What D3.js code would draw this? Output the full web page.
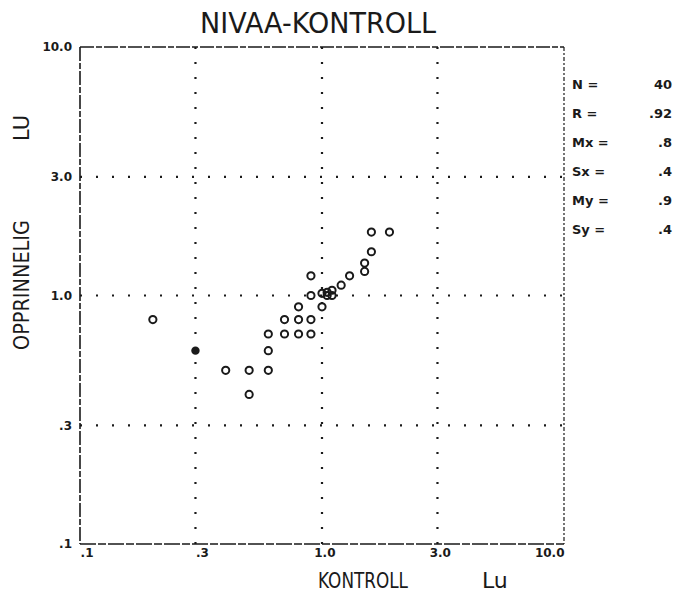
<!DOCTYPE html>
<html><head><meta charset="utf-8">
<script src="https://cdn.jsdelivr.net/npm/d3@7"></script>
<style>body{margin:0;background:#fff}svg{display:block}</style>
</head><body>
<script>
// ---- data ----
const xValues = [0.2, 0.4, 0.5, 0.6, 0.5, 0.6, 0.6, 0.7, 0.8, 0.9, 0.7, 0.8, 0.9, 0.8, 1.0, 0.9, 0.9, 1.05, 1.1, 1.0, 1.2, 1.3, 1.5, 1.5, 1.6, 1.6, 1.9, 1.1, 1.05];
const yValues = [0.8, 0.5, 0.5, 0.5, 0.4, 0.6, 0.7, 0.7, 0.7, 0.7, 0.8, 0.8, 0.8, 0.9, 0.9, 1.0, 1.2, 1.0, 1.05, 1.02, 1.1, 1.2, 1.25, 1.35, 1.5, 1.8, 1.8, 1.0, 1.03];
const filledX = [0.3];
const filledY = [0.6];
const tickValues = [0.1, 0.3, 1, 3, 10];
const tickLabels = [".1", ".3", "1.0", "3.0", "10.0"];
const gridValues = [0.3, 1, 3];
const statLabels = ["N =", "R =", "Mx =", "Sx =", "My =", "Sy ="];
const statValues = ["40", ".92", ".8", ".4", ".9", ".4"];

const W = 688, H = 604;
const svg = d3.select("body").append("svg").attr("width", W).attr("height", H);
const ink = "#1a1a1a";
const x = d3.scaleLog().domain([0.1, 10]).range([80, 564]);
const y = d3.scaleLog().domain([0.1, 10]).range([544, 47]);

// grid
svg.append("g").selectAll("line").data(gridValues).join("line")
  .attr("x1", d => x(d)).attr("x2", d => x(d)).attr("y1", y(10)).attr("y2", y(0.1))
  .attr("stroke", ink).attr("stroke-width", 2.2).attr("stroke-dasharray", "2,13");
svg.append("g").selectAll("line").data(gridValues).join("line")
  .attr("y1", d => y(d)).attr("y2", d => y(d)).attr("x1", x(0.1)).attr("x2", x(10))
  .attr("stroke", ink).attr("stroke-width", 2.2).attr("stroke-dasharray", "2,14");

// frame
const frame = svg.append("g").attr("fill", "none").attr("stroke", ink);
frame.append("line").attr("x1", x(0.1)).attr("x2", x(10)).attr("y1", y(10)).attr("y2", y(10)).attr("stroke-width", 1.4).attr("stroke-dasharray", "14,2,6,2");
frame.append("line").attr("x1", x(0.1)).attr("x2", x(10)).attr("y1", y(0.1)).attr("y2", y(0.1)).attr("stroke-width", 1.6).attr("stroke-dasharray", "16,2,8,2");
frame.append("line").attr("x1", x(0.1)).attr("x2", x(0.1)).attr("y1", y(10)).attr("y2", y(0.1)).attr("stroke-width", 1.6).attr("stroke-dasharray", "14,2,6,2");
frame.append("line").attr("x1", x(10)).attr("x2", x(10)).attr("y1", y(10)).attr("y2", y(0.1)).attr("stroke-width", 1.2).attr("stroke-dasharray", "4,2,2,2");

// axes (tick labels through d3 axis)
const fmt = d => tickLabels[tickValues.indexOf(d)];
const gx = svg.append("g").attr("transform", `translate(0,${y(0.1)})`)
  .call(d3.axisBottom(x).tickValues(tickValues).tickFormat(fmt).tickSize(0).tickPadding(4));
gx.select(".domain").remove();
gx.selectAll("text").attr("font-family", "DejaVu Sans").attr("font-size", 12).attr("font-weight", "bold")
  .attr("fill", ink).attr("text-anchor", "end").attr("dx", d => d === 10 ? 0 : 13);
const gy = svg.append("g").attr("transform", `translate(${x(0.1)},0)`)
  .call(d3.axisLeft(y).tickValues(tickValues).tickFormat(fmt).tickSize(0).tickPadding(8));
gy.select(".domain").remove();
gy.selectAll("text").attr("font-family", "DejaVu Sans").attr("font-size", 12).attr("font-weight", "bold")
  .attr("fill", ink);

// points
const pts = d3.zip(xValues, yValues);
svg.append("g").selectAll("circle").data(pts).join("circle")
  .attr("cx", d => x(d[0])).attr("cy", d => y(d[1])).attr("r", 3.6)
  .attr("fill", "none").attr("stroke", ink).attr("stroke-width", 2);
svg.append("g").selectAll("circle").data(d3.zip(filledX, filledY)).join("circle")
  .attr("cx", d => x(d[0])).attr("cy", d => y(d[1])).attr("r", 4.2).attr("fill", ink);

// title and axis titles
const tfont = "DejaVu Sans";
svg.append("text").attr("x", 318).attr("y", 33).attr("text-anchor", "middle")
  .attr("font-family", tfont).attr("font-size", 29).attr("fill", ink)
  .attr("textLength", 236).attr("lengthAdjust", "spacingAndGlyphs").text("NIVAA-KONTROLL");
svg.append("text").attr("x", 318).attr("y", 588).attr("text-anchor", "start")
  .attr("font-family", tfont).attr("font-size", 22).attr("fill", ink)
  .attr("textLength", 90).attr("lengthAdjust", "spacingAndGlyphs").text("KONTROLL");
svg.append("text").attr("x", 482).attr("y", 588).attr("text-anchor", "start")
  .attr("font-family", tfont).attr("font-size", 22).attr("fill", ink).text("Lu");
svg.append("text").attr("transform", "translate(29,285) rotate(-90)").attr("text-anchor", "middle")
  .attr("font-family", tfont).attr("font-size", 21).attr("fill", ink)
  .attr("textLength", 130).attr("lengthAdjust", "spacingAndGlyphs").text("OPPRINNELIG");
svg.append("text").attr("transform", "translate(29,128) rotate(-90)").attr("text-anchor", "middle")
  .attr("font-family", tfont).attr("font-size", 21).attr("fill", ink).text("LU");

// stats panel
const rowY = [89, 118, 147, 176, 205, 234];
const st = svg.append("g").attr("font-family", "DejaVu Sans").attr("font-size", 13).attr("font-weight", "bold").attr("fill", ink);
st.selectAll("text.l").data(statLabels).join("text").attr("class", "l")
  .attr("x", 572).attr("y", (d, i) => rowY[i]).text(d => d);
st.selectAll("text.v").data(statValues).join("text").attr("class", "v")
  .attr("x", 672).attr("y", (d, i) => rowY[i]).attr("text-anchor", "end").text(d => d);
</script>
</body></html>
